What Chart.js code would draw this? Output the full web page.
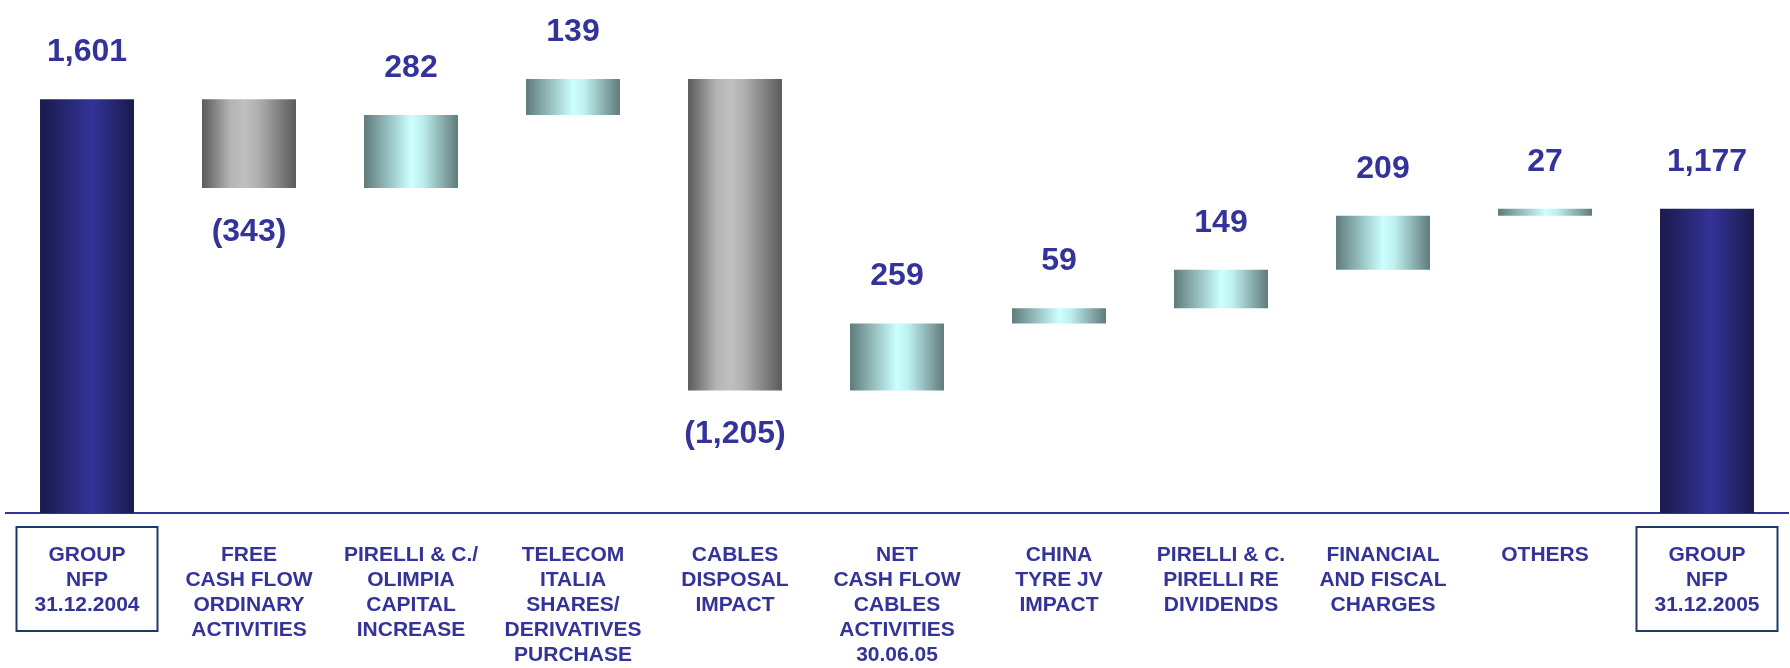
<!DOCTYPE html>
<html lang="en">
<head>
    <meta charset="UTF-8">
    <title>Group NFP 31.12.2004 - 31.12.2005</title>
    <script src="https://cdn.jsdelivr.net/npm/chart.js"></script>
    <style>
        body {
            margin: 0;
            background: #ffffff;
        }
        #nfpChart {
            display: block;
        }
    </style>
</head>
<body>
    <canvas id="nfpChart" width="1790" height="668"></canvas>

    <script>
        // categories (multi-line labels)
        const categories = [
            ['GROUP', 'NFP', '31.12.2004'],
            ['FREE', 'CASH FLOW', 'ORDINARY', 'ACTIVITIES'],
            ['PIRELLI & C./', 'OLIMPIA', 'CAPITAL', 'INCREASE'],
            ['TELECOM', 'ITALIA', 'SHARES/', 'DERIVATIVES', 'PURCHASE'],
            ['CABLES', 'DISPOSAL', 'IMPACT'],
            ['NET', 'CASH FLOW', 'CABLES', 'ACTIVITIES', '30.06.05'],
            ['CHINA', 'TYRE JV', 'IMPACT'],
            ['PIRELLI & C.', 'PIRELLI RE', 'DIVIDENDS'],
            ['FINANCIAL', 'AND FISCAL', 'CHARGES'],
            ['OTHERS'],
            ['GROUP', 'NFP', '31.12.2005']
        ];
        // first and last are totals, the rest are movements
        const values = [1601, -343, 282, 139, -1205, 259, 59, 149, 209, 27, 1177];
        const valueLabels = ['1,601', '(343)', '282', '139', '(1,205)', '259', '59', '149', '209', '27', '1,177'];
        const isTotal = [true, false, false, false, false, false, false, false, false, false, true];

        // floating bars [from, to]
        let running = 0;
        const ranges = values.map((v, i) => {
            if (isTotal[i]) {
                running = v;
                return [0, v];
            }
            const from = running;
            running += v;
            return [from, running];
        });

        const BAR_PCT = 0.58;

        function barGradient(context) {
            const chart = context.chart;
            const area = chart.chartArea;
            const xScale = chart.scales.x;
            if (!area || !xScale) return '#333399';
            const i = context.dataIndex;
            const cx = xScale.getPixelForValue(i);
            const w = (area.right - area.left) / categories.length * BAR_PCT;
            const g = chart.ctx.createLinearGradient(cx - w / 2, 0, cx + w / 2, 0);
            if (isTotal[i]) {
                g.addColorStop(0, '#1a1a4c');
                g.addColorStop(0.55, '#333399');
                g.addColorStop(1, '#1a1a4c');
            } else if (values[i] < 0) {
                g.addColorStop(0, '#5a5a5a');
                g.addColorStop(0.3, '#b4b4b4');
                g.addColorStop(0.45, '#c0c0c0');
                g.addColorStop(0.6, '#b0b0b0');
                g.addColorStop(1, '#5a5a5a');
            } else {
                g.addColorStop(0, '#5f7b7b');
                g.addColorStop(0.5, '#ccffff');
                g.addColorStop(0.62, '#bff0f0');
                g.addColorStop(1, '#5f7b7b');
            }
            return g;
        }

        // value labels above / below each bar
        const valueLabelPlugin = {
            id: 'valueLabels',
            afterDatasetsDraw(chart) {
                const ctx = chart.ctx;
                const meta = chart.getDatasetMeta(0);
                ctx.save();
                ctx.font = 'bold 32px "Liberation Sans", Arial, sans-serif';
                ctx.fillStyle = '#333399';
                ctx.textAlign = 'center';
                ctx.textBaseline = 'middle';
                meta.data.forEach((bar, i) => {
                    const top = Math.min(bar.y, bar.base);
                    const bottom = Math.max(bar.y, bar.base);
                    const y = values[i] < 0 ? bottom + 44 : top - 47;
                    ctx.fillText(valueLabels[i], bar.x, y);
                });
                ctx.restore();
            }
        };

        // frames round the two total labels
        const totalBoxPlugin = {
            id: 'totalBoxes',
            afterDraw(chart) {
                const ctx = chart.ctx;
                const xScale = chart.scales.x;
                const bottom = chart.chartArea.bottom;
                ctx.save();
                ctx.strokeStyle = '#1c3a62';
                ctx.lineWidth = 2;
                isTotal.forEach((t, i) => {
                    if (!t) return;
                    const cx = xScale.getPixelForValue(i);
                    ctx.strokeRect(cx - 70.5, bottom + 14, 141, 104);
                });
                ctx.restore();
            }
        };

        const ctx = document.getElementById('nfpChart').getContext('2d');
        const nfpChart = new Chart(ctx, {
            type: 'bar',
            data: {
                labels: categories,
                datasets: [{
                    data: ranges,
                    backgroundColor: barGradient,
                    borderWidth: 0,
                    barPercentage: BAR_PCT,
                    categoryPercentage: 1
                }]
            },
            options: {
                responsive: false,
                animation: false,
                layout: {
                    padding: { left: 6, right: 2, top: 0, bottom: 0 }
                },
                plugins: {
                    legend: { display: false },
                    tooltip: { enabled: false }
                },
                scales: {
                    x: {
                        grid: { display: false, drawTicks: false },
                        border: { display: true, color: '#333399', width: 2 },
                        ticks: {
                            autoSkip: false,
                            maxRotation: 0,
                            padding: 30,
                            color: '#333399',
                            font: {
                                family: '"Liberation Sans", Arial, sans-serif',
                                size: 21,
                                weight: 'bold',
                                lineHeight: '25px'
                            }
                        },
                        afterFit(scale) {
                            scale.height = 155;
                        }
                    },
                    y: {
                        display: false,
                        min: 0,
                        max: 1985
                    }
                }
            },
            plugins: [valueLabelPlugin, totalBoxPlugin]
        });
    </script>
</body>
</html>
